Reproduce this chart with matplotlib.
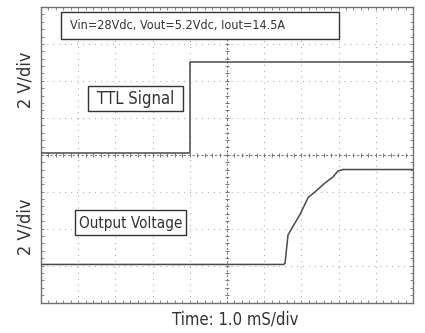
import numpy as np
import matplotlib.pyplot as plt
from matplotlib.patches import Rectangle
from matplotlib import font_manager

# scope screen: 10 div wide, 8 div tall, centre at (5, 0)
ttl_t = [0.0, 4.0, 4.0, 10.0]
ttl_v = [0.04, 0.04, 2.51, 2.51]

out_t = [0.0, 6.52, 6.56, 6.64, 6.96, 7.18, 7.37, 7.64, 7.85, 7.98, 8.12, 10.0]
out_v = [-2.97, -2.97, -2.94, -2.17, -1.62, -1.16, -1.00, -0.76, -0.60, -0.44, -0.40, -0.40]

info_text = "Vin=28Vdc, Vout=5.2Vdc, Iout=14.5A"
ttl_label = "TTL Signal"
out_label = "Output Voltage"
y_label = "2 V/div"
x_label = "Time: 1.0 mS/div"

# look for a narrow sans font
fam, stretch = "DejaVu Sans", "normal"
cands = [f for f in font_manager.fontManager.ttflist
         if ("Condensed" in f.name or "Narrow" in f.name
             or str(f.stretch) in ("condensed", "semi-condensed", "extra-condensed"))
         and "Serif" not in f.name and "Mono" not in f.name and f.weight in (400, "normal")
         and f.style == "normal"]
if cands:
    fam, stretch = cands[0].name, cands[0].stretch
plt.rcParams['font.family'] = [fam, 'DejaVu Sans']
plt.rcParams['font.stretch'] = stretch

fig = plt.figure(figsize=(4.25, 3.33), dpi=100)
ax = fig.add_axes([41/425, 1 - 302.5/333, 372/425, 295.5/333])
ax.set_xlim(0, 10)
ax.set_ylim(-4, 4)

grid_c = '#a0a0a0'
# dotted graticule
for x in range(1, 10):
    if x != 5:
        ax.axvline(x, color=grid_c, lw=0.8, ls=(0, (0.8, 4.55)), zorder=1)
for y in range(-3, 4):
    if y != 0:
        ax.axhline(y, color=grid_c, lw=0.8, ls=(0, (0.8, 4.55)), zorder=1)
# centre cross with small ticks
ax.axvline(5, color='#777777', lw=0.8, ls=(0, (2, 2)), zorder=1)
ax.axhline(0, color='#777777', lw=0.8, ls=(0, (2, 2)), zorder=1)
sub_x = np.arange(0, 10.01, 0.2)
sub_y = np.arange(-4, 4.01, 0.2)
ax.plot(sub_x, np.zeros_like(sub_x), ls='none', marker='|', ms=3, mew=0.7, color='#777777', zorder=1)
ax.plot(np.full_like(sub_y, 5), sub_y, ls='none', marker='_', ms=3, mew=0.7, color='#777777', zorder=1)

# traces
ax.plot(ttl_t, ttl_v, color='#4a4a4a', lw=1.1, zorder=3)
ax.plot(out_t, out_v, color='#4a4a4a', lw=1.1, zorder=3)

# border ticks
ax.set_xticks(range(0, 11))
ax.set_yticks(range(-4, 5))
ax.set_xticks(sub_x, minor=True)
ax.set_yticks(sub_y, minor=True)
ax.tick_params(which='both', direction='in', length=2.5, width=0.7, color='#888888',
               top=True, right=True, labelbottom=False, labelleft=False)
for s in ax.spines.values():
    s.set_color('#707070')
    s.set_linewidth(1.0)

# labels in boxes
box_kw = dict(transform=ax.transAxes, fill=True, facecolor='white', edgecolor='#333333', lw=1.0, zorder=4)
ax.add_patch(Rectangle((0.054, 0.892), 0.747, 0.091, **box_kw))
ax.text(0.078, 0.937, info_text, transform=ax.transAxes, fontsize=9, color='#333333',
        va='center', ha='left', zorder=5)
ax.add_patch(Rectangle((0.126, 0.648), 0.256, 0.085, **box_kw))
ax.text(0.254, 0.69, ttl_label, transform=ax.transAxes, fontsize=12, color='#333333',
        va='center', ha='center', zorder=5)
ax.add_patch(Rectangle((0.091, 0.227), 0.298, 0.085, **box_kw))
ax.text(0.24, 0.269, out_label, transform=ax.transAxes, fontsize=11, color='#333333',
        va='center', ha='center', zorder=5)

fig.text(26/425, 1 - 80/333, y_label, rotation=90, fontsize=13, color='#333333', ha='center', va='center')
fig.text(26/425, 1 - 227/333, y_label, rotation=90, fontsize=13, color='#333333', ha='center', va='center')
fig.text(235/425, 1 - 320/333, x_label, fontsize=12, color='#333333', ha='center', va='center')

fig.savefig('out.png', dpi=100)
